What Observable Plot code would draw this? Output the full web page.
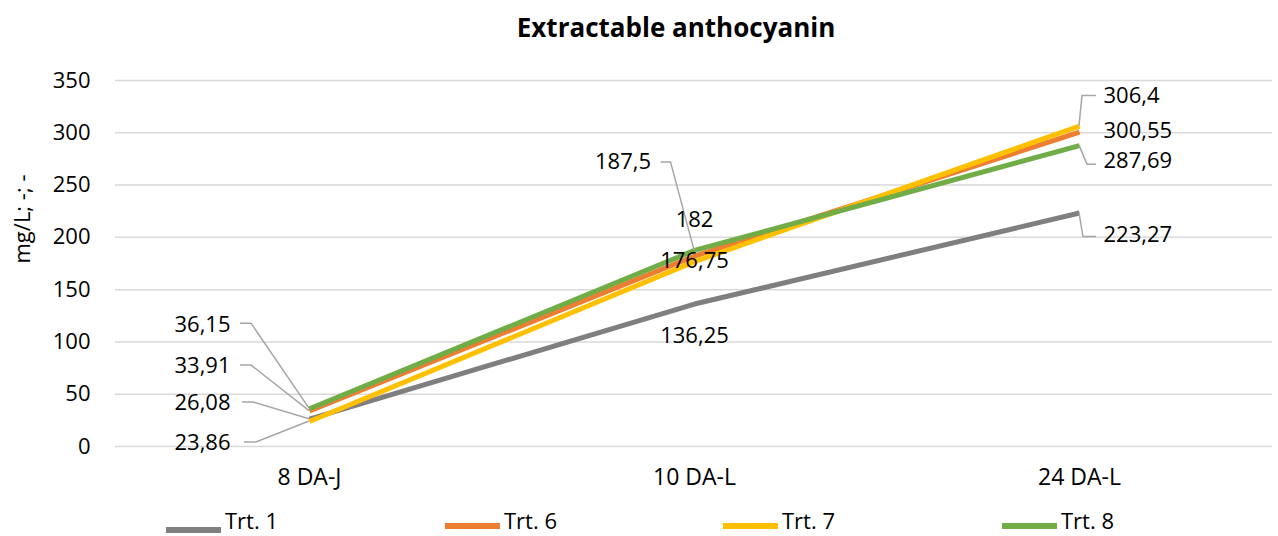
<!DOCTYPE html>
<html><head><meta charset="utf-8">
<script src="https://cdn.jsdelivr.net/npm/d3@7"></script>
<script src="https://cdn.jsdelivr.net/npm/@observablehq/plot@0.6"></script>
<style>
body{margin:0;background:#fff;font-family:"Open Sans",sans-serif;color:#000}
#wrap{position:relative;width:1278px;height:536px;overflow:hidden;background:#fff}
#title{position:absolute;top:10px;left:676px;transform:translateX(-50%);font-size:26px;font-weight:bold;white-space:nowrap;line-height:34px}
#chart{position:absolute;top:55px;left:0}
.lg{position:absolute;font-size:22px;line-height:26px;white-space:nowrap}
.sw{position:absolute;height:6px}
</style></head><body>
<div id="wrap"><div id="title">Extractable anthocyanin</div><div id="chart"></div><div id="legend"></div></div>
<script>
const categories = ["8 DA-J", "10 DA-L", "24 DA-L"];
const seriesNames = ["Trt. 1", "Trt. 6", "Trt. 7", "Trt. 8"];
const trt1 = [26.08, 136.25, 223.27];
const trt6 = [33.91, 182, 300.55];
const trt7 = [23.86, 176.75, 306.4];
const trt8 = [36.15, 187.5, 287.69];
const yTicks = [0, 50, 100, 150, 200, 250, 300, 350];
const yLabel = "mg/L; -; -";
const colors = ["#7F7F7F", "#ED7D31", "#FFC000", "#70AD47"];

// label placement (pixel offsets from each data point), per series per category
const labelLayout = {
  "Trt. 1": [{dx:-79, dy:-16.7, a:"end", leader:[[-56,-16.7],[-67,-16.7]]}, {dx:0, dy:31.5, a:"middle"}, {dx:24, dy:21.5, a:"start", leader:[[4,24],[17,24]]}],
  "Trt. 6": [{dx:-79, dy:-45.5, a:"end", leader:[[-58,-45.5],[-69,-45.5]]}, {dx:0, dy:-36, a:"middle"}, {dx:24, dy:-1.7, a:"start"}],
  "Trt. 7": [{dx:-79, dy:21, a:"end", leader:[[-53,21],[-65,21]]}, {dx:0, dy:-1, a:"middle"}, {dx:24, dy:-30, a:"start", leader:[[3,-30],[17,-30]]}],
  "Trt. 8": [{dx:-79, dy:-84, a:"end", leader:[[-58,-85],[-69,-85]]}, {dx:-43.5, dy:-88, a:"end", leader:[[-23.5,-88],[-33.5,-88]]}, {dx:24, dy:15.5, a:"start", leader:[[8,19],[17,19]]}]
};

const seriesValues = [trt1, trt6, trt7, trt8];
const rows = [];
seriesNames.forEach((s, i) => categories.forEach((c, j) => rows.push({series: s, category: c, value: seriesValues[i][j], ci: j})));
const fmt = v => String(v).replace(".", ",");
const labelRows = rows.map(r => ({...r, ...labelLayout[r.series][r.ci]}));

function leaders(index, scales) {
  const g = d3.create("svg:g");
  for (const L of labelRows) {
    if (!L.leader) continue;
    const px = scales.x(L.category), py = scales.y(L.value);
    const pts = [[px, py], ...L.leader.map(([dx, dy]) => [px + dx, py + dy])];
    g.append("path").attr("d", d3.line()(pts)).attr("fill", "none")
      .attr("stroke", "#A6A6A6").attr("stroke-width", 1.5);
  }
  return g.node();
}

const labelMarks = labelRows.map(d => Plot.text([d], {
  x: "category", y: "value", text: r => fmt(r.value), textAnchor: d.a,
  dx: d.dx, dy: d.dy, fill: "#000", fontSize: 22
}));

const chart = Plot.plot({
  width: 1278, height: 450,
  marginTop: 25, marginBottom: 59, marginLeft: 115, marginRight: 6,
  style: {fontFamily: "'Open Sans', sans-serif", fontSize: "22px", color: "#000", background: "#fff"},
  x: {type: "point", domain: categories, padding: 0.5},
  y: {domain: [0, 350]},
  color: {domain: seriesNames, range: colors},
  marks: [
    Plot.ruleY(yTicks, {stroke: "#D9D9D9", strokeWidth: 1.5}),
    Plot.axisY({ticks: yTicks, tickSize: 0, tickPadding: 25, label: null, fontSize: 22}),
    Plot.axisX({tickSize: 0, tickPadding: 22, label: null, fontSize: 23}),
    Plot.text([yLabel], {frameAnchor: "left", rotate: -90, dx: -93, fontSize: 22, fill: "#000"}),
    Plot.line(rows, {x: "category", y: "value", z: "series", stroke: "series", strokeWidth: 5, strokeLinecap: "butt", strokeLinejoin: "round"}),
    leaders,
    ...labelMarks
  ]
});
document.getElementById("chart").appendChild(chart);

// legend
const legendLeft = [166, 445, 723, 1002];
const lg = document.getElementById("legend");
seriesNames.forEach((s, i) => {
  const sw = document.createElement("div");
  sw.className = "sw";
  sw.style.left = legendLeft[i] + "px";
  sw.style.width = "55px";
  sw.style.top = (i === 0 ? 527 : 523) + "px";
  sw.style.background = colors[i];
  lg.appendChild(sw);
  const t = document.createElement("div");
  t.className = "lg";
  t.textContent = s;
  t.style.left = (legendLeft[i] + 59) + "px";
  t.style.top = "507px";
  lg.appendChild(t);
});
</script>
</body></html>
